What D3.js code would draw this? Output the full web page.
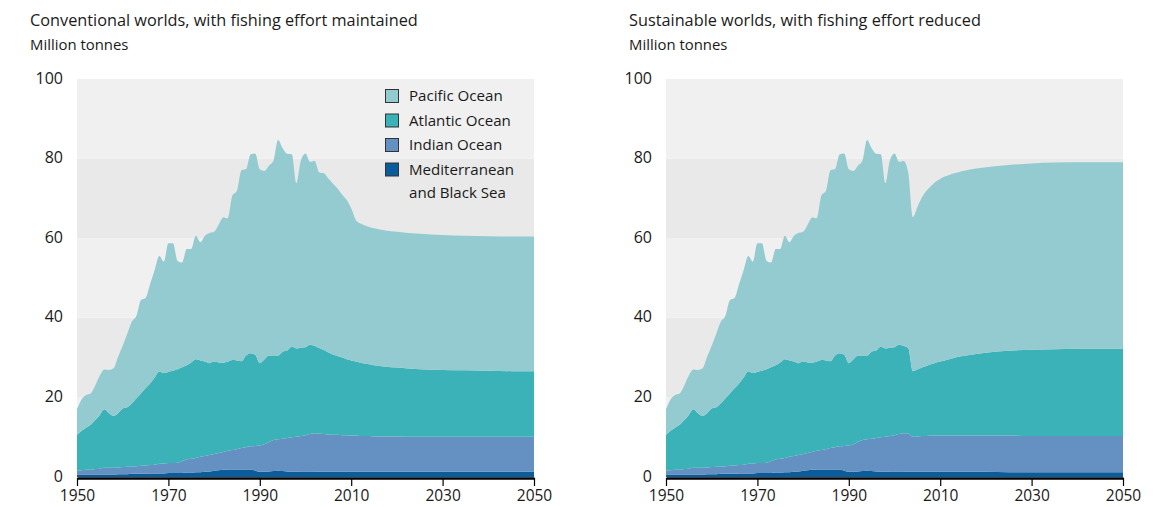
<!DOCTYPE html>
<html><head><meta charset="utf-8">
<script src="https://cdn.jsdelivr.net/npm/d3@7"></script>
<style>
body{margin:0;background:#fff;}
text{font-family:"Open Sans","Noto Sans",sans-serif;fill:#1a1a1a;}
</style></head>
<body><svg id="c" width="1167" height="507"></svg>
<script>
// ---- Data (million tonnes, per region, not cumulative) ----
const histYears = d3.range(1950, 2004); // 1950..2003
const medHist = [0.6,0.6,0.6,0.6,0.6,0.6,0.6,0.6,0.6,0.7,0.7,0.7,0.8,0.8,0.8,0.8,0.9,0.9,0.9,0.9,1.0,1.0,1.0,1.0,1.1,1.1,1.2,1.2,1.3,1.4,1.6,1.7,1.8,1.9,1.9,1.9,1.9,1.9,1.9,1.6,1.3,1.3,1.4,1.5,1.6,1.5,1.4,1.3,1.3,1.4,1.4,1.4,1.4,1.3];
const indianHist = [1.0,1.1,1.2,1.2,1.4,1.5,1.7,1.7,1.7,1.7,1.8,1.9,1.8,1.9,2.0,2.1,2.1,2.2,2.4,2.5,2.5,2.5,2.6,3.0,3.3,3.5,3.6,3.9,4.0,4.1,4.2,4.3,4.5,4.7,4.9,5.1,5.4,5.6,5.8,6.2,6.6,6.9,7.4,7.8,7.9,8.1,8.4,8.7,8.8,8.9,9.1,9.4,9.6,9.6];
const atlanticHist = [9.0,9.9,10.6,11.3,12.3,13.5,14.7,13.7,13.0,13.6,14.7,14.9,15.9,17.1,18.2,19.4,20.5,21.9,23.2,22.7,22.9,23.2,23.5,23.6,23.7,24.2,24.8,24.2,23.7,23.1,23.2,22.8,22.4,22.4,22.6,22.3,21.8,23.0,23.4,22.9,20.7,21.3,21.7,21.2,21.0,21.9,22.0,22.7,22.2,22.2,22.1,22.4,21.9,21.5];
const pacificHist = [6.4,7.9,8.2,7.9,8.7,9.9,10.0,10.9,12.0,14.2,15.8,18.5,20.5,20.7,23.5,22.7,25.0,27.0,29.0,28.0,32.3,32.0,27.2,26.3,29.2,28.5,31.0,29.7,31.6,32.7,32.6,34.6,36.5,36.0,41.3,42.6,48.0,46.9,50.0,50.6,48.7,47.4,47.7,49.0,54.2,51.1,49.4,48.4,41.5,47.1,48.7,46.0,46.5,44.1];

const projYears = [2004,2005,2006,2007,2008,2009,2010,2011,2012,2013,2014,2015,2020,2025,2030,2035,2040,2045,2050];
// Conventional worlds, fishing effort maintained
const medConv = [1.3,1.3,1.3,1.3,1.3,1.3,1.3,1.3,1.3,1.3,1.3,1.3,1.3,1.3,1.3,1.3,1.3,1.3,1.3];
const indianConv = [9.5,9.4,9.3,9.3,9.2,9.2,9.1,9.1,9.0,9.0,9.0,8.9,8.9,8.8,8.8,8.8,8.8,8.8,8.8];
const atlanticConv = [21.1,20.6,20.2,19.8,19.5,19.1,18.9,18.6,18.4,18.2,18.0,17.9,17.3,17.0,16.8,16.7,16.6,16.5,16.5];
const pacificConv = [44.4,43.7,42.9,42.1,41.0,40.0,38.2,35.6,35.0,34.7,34.5,34.4,34.1,34.0,33.9,33.8,33.8,33.8,33.8];
// Sustainable worlds, fishing effort reduced
const medSust = [1.3,1.3,1.3,1.3,1.3,1.3,1.3,1.3,1.3,1.3,1.3,1.3,1.3,1.2,1.2,1.2,1.2,1.2,1.2];
const indianSust = [8.8,8.9,9.0,9.0,9.1,9.1,9.1,9.1,9.1,9.1,9.1,9.1,9.1,9.2,9.1,9.1,9.1,9.1,9.1];
const atlanticSust = [16.5,16.8,17.2,17.6,17.9,18.3,18.6,18.9,19.2,19.5,19.8,20.0,20.8,21.3,21.7,21.8,21.9,21.9,21.9];
const pacificSust = [38.7,40.8,42.7,44.0,44.8,45.5,45.9,46.2,46.3,46.4,46.4,46.5,46.6,46.7,46.8,46.9,46.9,46.9,46.9];

const seriesKeys = ["med","indian","atlantic","pacific"];
const colors = ["#0b5c9b","#6590c2","#3bb2b8","#93cbd0"];
const legendLabels = [["Pacific Ocean"],["Atlantic Ocean"],["Indian Ocean"],["Mediterranean","and Black Sea"]];
const legendColors = ["#93cbd0","#3bb2b8","#6590c2","#0b5c9b"];
const yTicks = [0,20,40,60,80,100];
const xTicks = [1950,1970,1990,2010,2030,2050];
const titles = ["Conventional worlds, with fishing effort maintained","Sustainable worlds, with fishing effort reduced"];
const unitLabel = "Million tonnes";

function buildRows(med, ind, atl, pac){
  const years = histYears.concat(projYears);
  const m = medHist.concat(med), i = indianHist.concat(ind), a = atlanticHist.concat(atl), p = pacificHist.concat(pac);
  return years.map((y,k)=>({year:y, med:m[k], indian:i[k], atlantic:a[k], pacific:p[k]}));
}
const panels = [
  {rows: buildRows(medConv, indianConv, atlanticConv, pacificConv), x0:77, x1:534, tx:30, legend:true},
  {rows: buildRows(medSust, indianSust, atlanticSust, pacificSust), x0:666, x1:1123, tx:629, legend:false}
];

const svg = d3.select("#c");
const yTop = 79, yBot = 477;

panels.forEach((p, pi) => {
  const g = svg.append("g");
  const x = d3.scaleLinear().domain([1950,2050]).range([p.x0, p.x1]);
  const y = d3.scaleLinear().domain([0,100]).range([yBot, yTop]);

  for (let k = 0; k < yTicks.length-1; k++){
    g.append("rect").attr("x", p.x0).attr("width", p.x1-p.x0)
      .attr("y", y(yTicks[k+1])).attr("height", y(yTicks[k]) - y(yTicks[k+1]))
      .attr("fill", k % 2 === 0 ? "#f0f0f0" : "#e9e9e9");
  }

  const layers = d3.stack().keys(seriesKeys)(p.rows);
  const area = d3.area().x(d=>x(d.data.year)).y0(d=>y(d[0])).y1(d=>y(d[1])).curve(d3.curveMonotoneX);
  g.selectAll("path.layer").data(layers).join("path").attr("class","layer")
    .attr("d", area).attr("fill", (d,i)=>colors[i]);

  g.selectAll("text.yl").data(yTicks).join("text").attr("class","yl")
    .attr("x", p.x0-14).attr("y", d=>y(d) - 1).attr("dy","0.35em").attr("text-anchor","end")
    .style("font-size","16px").text(d=>d);

  const ax = d3.axisBottom(x).tickValues(xTicks).tickFormat(d3.format("d")).tickSize(8).tickSizeOuter(0);
  const axg = g.append("g").attr("transform", `translate(0,${yBot+1})`).call(ax);
  axg.select(".domain").attr("stroke","#000").attr("stroke-width",2.5);
  axg.selectAll(".tick line").attr("stroke","#000").attr("stroke-width",1.2);
  axg.selectAll(".tick text").attr("y", 12).style("font-size","15.5px").style("font-family","'Open Sans','Noto Sans',sans-serif").attr("fill","#1a1a1a");

  g.append("text").attr("x", p.tx).attr("y", 26).style("font-size","16.3px").text(titles[pi]);
  g.append("text").attr("x", p.tx).attr("y", 50).style("font-size","14.9px").text(unitLabel);

  if (p.legend){
    const lg = g.append("g");
    legendLabels.forEach((lab, i) => {
      const yy = 96 + i*24.5;
      lg.append("rect").attr("x", 385.5).attr("y", yy-6.5).attr("width",13).attr("height",13)
        .attr("fill", legendColors[i]).attr("stroke","#333").attr("stroke-width",1);
      lab.forEach((t, j) => {
        lg.append("text").attr("x", 409).attr("y", yy + j*23.5).attr("dy","0.35em")
          .style("font-size","15.1px").text(t);
      });
    });
  }
});
</script></body></html>
